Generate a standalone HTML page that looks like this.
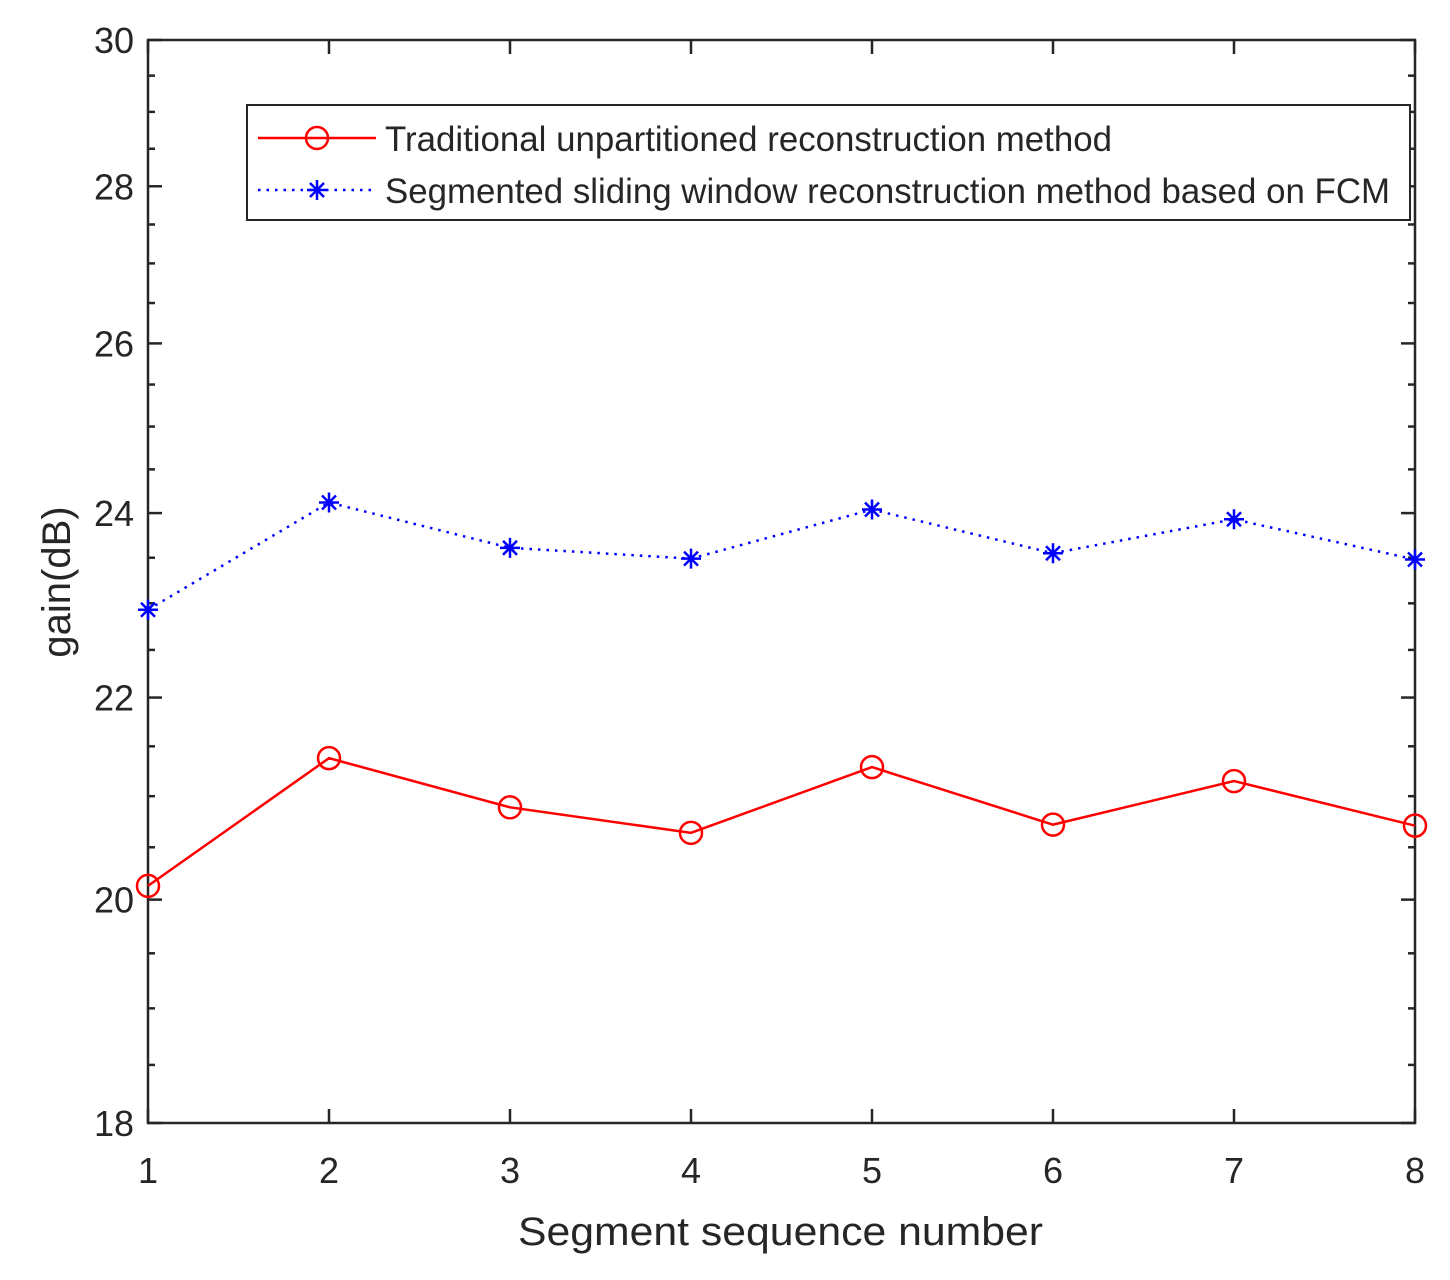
<!DOCTYPE html>
<html><head><meta charset="utf-8"><style>
body{margin:0;background:#fff;width:1450px;height:1275px;overflow:hidden}
text{font-family:"Liberation Sans",Arial,sans-serif;fill:#262626}
</style></head><body>
<svg id="chart" width="1450" height="1275" xmlns="http://www.w3.org/2000/svg">
</svg>
<script>
const categories=[1,2,3,4,5,6,7,8];
const traditional=[20.13,21.38,20.89,20.64,21.29,20.72,21.15,20.71];
const segmented=[22.93,24.12,23.61,23.49,24.04,23.55,23.93,23.48];
const yTicks=[18,20,22,24,26,28,30];
const L=148,R=1415,T=40,B=1123,ymin=18,ymax=30;
const NS="http://www.w3.org/2000/svg";
const svg=document.getElementById('chart');
function xs(v){return L+(v-1)/7*(R-L);}
function ys(v){return B-(Math.log(v)-Math.log(ymin))/(Math.log(ymax)-Math.log(ymin))*(B-T);}
function el(t,a,p){const e=document.createElementNS(NS,t);for(const k in a)e.setAttribute(k,a[k]);(p||svg).appendChild(e);return e;}
const box=el('rect',{x:L,y:T,width:R-L,height:B-T,fill:'none',stroke:'#262626','stroke-width':2.5});


for(let v=18.5;v<30;v+=0.5){if(Math.abs(v-Math.round(v/2)*2)<1e-6)continue;const y=ys(v);
el('line',{x1:L,x2:L+7,y1:y,y2:y,stroke:'#262626','stroke-width':2.5});el('line',{x1:R,x2:R-7,y1:y,y2:y,stroke:'#262626','stroke-width':2.5});}
yTicks.forEach(v=>{const y=ys(v);
el('line',{x1:L,x2:L+14,y1:y,y2:y,stroke:'#262626','stroke-width':2.5});el('line',{x1:R,x2:R-14,y1:y,y2:y,stroke:'#262626','stroke-width':2.5});
const t=el('text',{x:L-14,y:y+13,'text-anchor':'end','font-size':36});t.textContent=v;

});
categories.forEach(c=>{const x=xs(c);
el('line',{x1:x,x2:x,y1:B,y2:B-14,stroke:'#262626','stroke-width':2.5});el('line',{x1:x,x2:x,y1:T,y2:T+14,stroke:'#262626','stroke-width':2.5});
const t=el('text',{x:x,y:B+60,'text-anchor':'middle','font-size':36});t.textContent=c;

});
const xt=el('text',{x:518,y:1245,'font-size':40,textLength:525,lengthAdjust:'spacingAndGlyphs'});xt.textContent='Segment sequence number';


const yt=el('text',{x:0,y:0,'text-anchor':'middle','font-size':40,transform:'translate(70,582) rotate(-90)'});yt.textContent='gain(dB)';


const rl=el('polyline',{points:categories.map((c,i)=>xs(c)+','+ys(traditional[i])).join(' '),fill:'none',stroke:'#ff0000','stroke-width':2.5});


categories.forEach((c,i)=>{const m=el('circle',{cx:xs(c),cy:ys(traditional[i]),r:11,fill:'none',stroke:'#ff0000','stroke-width':2.5});

});
const bl=el('polyline',{points:categories.map((c,i)=>xs(c)+','+ys(segmented[i])).join(' '),fill:'none',stroke:'#0000ff','stroke-width':2.5,'stroke-dasharray':'2.5,6'});


function star(x,y,g){const s=10;el('path',{d:`M${x-s} ${y}H${x+s}M${x} ${y-s}V${y+s}M${x-7} ${y-7}L${x+7} ${y+7}M${x-7} ${y+7}L${x+7} ${y-7}`,stroke:'#0000ff','stroke-width':2.5,fill:'none'},g);}
categories.forEach((c,i)=>{const g=el('g',{});


star(xs(c),ys(segmented[i]),g);});
const lg=el('g',{});


el('rect',{x:247,y:105,width:1163,height:115,fill:'#fff',stroke:'#262626','stroke-width':2},lg);
el('line',{x1:258,x2:376,y1:138,y2:138,stroke:'#ff0000','stroke-width':2.5},lg);
el('circle',{cx:317,cy:138,r:11,fill:'none',stroke:'#ff0000','stroke-width':2.5},lg);
const l1=el('text',{x:385,y:151,'font-size':35,textLength:727,lengthAdjust:'spacingAndGlyphs'},lg);l1.textContent='Traditional unpartitioned reconstruction method';
el('line',{x1:258,x2:376,y1:190,y2:190,stroke:'#0000ff','stroke-width':2.5,'stroke-dasharray':'2.5,6'},lg);
star(317,190,lg);
const l2=el('text',{x:385,y:203,'font-size':35,textLength:1005,lengthAdjust:'spacingAndGlyphs'},lg);l2.textContent='Segmented sliding window reconstruction method based on FCM';
</script>
</body></html>
